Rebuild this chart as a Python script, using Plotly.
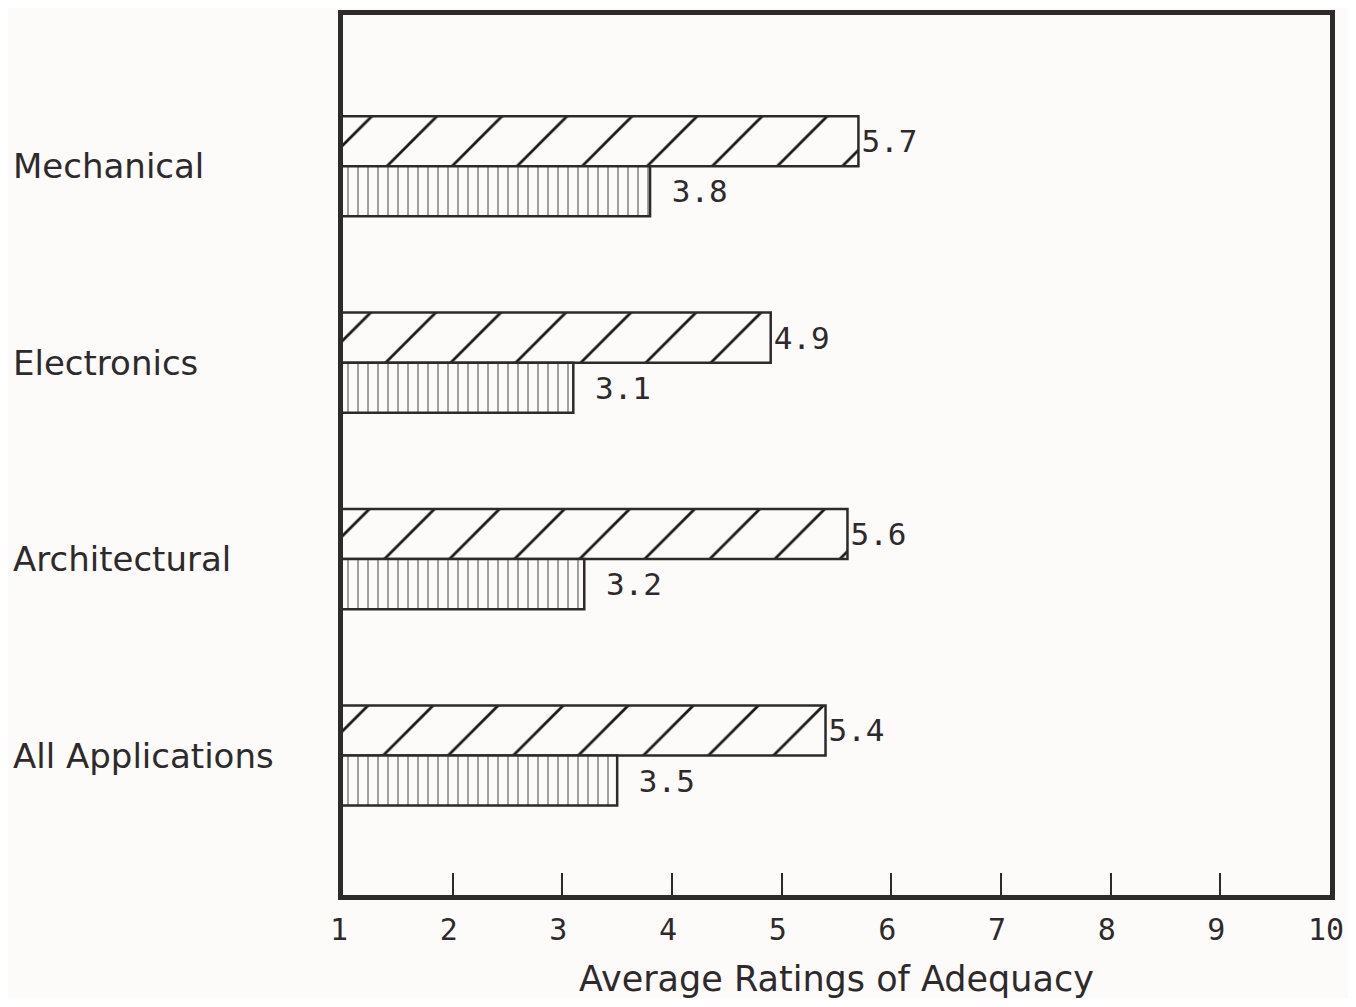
import plotly.graph_objects as go

# datos
categorias = ['Mechanical', 'Electronics', 'Architectural', 'All Applications']
serie_a = [5.7, 4.9, 5.6, 5.4]   # barras rayadas
serie_b = [3.8, 3.1, 3.2, 3.5]   # barras punteadas
ticks_x = [1, 2, 3, 4, 5, 6, 7, 8, 9, 10]

pos_y = list(range(len(categorias)))
tinta = '#2e2a2c'
fondo = '#fcfbf9'

fig = go.Figure()
fig.add_trace(
    go.Bar(
        name='A',
        y=pos_y,
        x=serie_a,
        orientation='h',
        marker=dict(
            color=fondo,
            line=dict(color=tinta, width=2.5),
            pattern=dict(shape='/', size=46, solidity=0.06, fgcolor='#1a1718',
                         fgopacity=1, bgcolor=fondo),
        ),
        text=[f'{v:.1f}' for v in serie_a],
        textposition='outside',
        textfont=dict(family='DejaVu Sans Mono', size=31, color=tinta),
        cliponaxis=False,
    )
)
fig.add_trace(
    go.Bar(
        name='B',
        y=pos_y,
        x=serie_b,
        orientation='h',
        marker=dict(
            color=fondo,
            line=dict(color=tinta, width=2.5),
            pattern=dict(shape='|', size=10, solidity=0.1, fgcolor='#444',
                         fgopacity=1, bgcolor=fondo),
        ),
        text=[f' {v:.1f}' for v in serie_b],
        textposition='outside',
        textfont=dict(family='DejaVu Sans Mono', size=31, color=tinta),
        cliponaxis=False,
    )
)

# etiquetas de categoria alineadas a la izquierda
for i, cat in enumerate(categorias):
    fig.add_annotation(
        x=-0.336, xref='paper', y=i, yref='y',
        text=cat, showarrow=False, xanchor='left', yanchor='middle',
        font=dict(family='DejaVu Sans', size=34, color=tinta),
    )

# la pagina tiene 8px de margen en el body
fig.update_layout(
    width=1340,
    height=991,
    paper_bgcolor=fondo,
    plot_bgcolor=fondo,
    showlegend=False,
    barmode='group',
    bargap=0.49,
    bargroupgap=0.0,
    margin=dict(l=335, r=18, t=7, b=104),
    xaxis=dict(
        range=[1, 10],
        tickvals=ticks_x,
        ticktext=[str(t) for t in ticks_x],
        ticks='inside',
        ticklen=22,
        tickwidth=2,
        tickcolor=tinta,
        ticklabelshift=-4,
        ticklabelstandoff=4,
        ticklabeloverflow='allow',
        showgrid=False,
        zeroline=False,
        showline=True,
        linecolor=tinta,
        linewidth=5,
        mirror=True,
        automargin=False,
        tickfont=dict(family='DejaVu Sans Mono', size=30, color=tinta),
        title=dict(
            text='Average Ratings of Adequacy',
            font=dict(family='DejaVu Sans', size=35, color=tinta),
            standoff=24,
        ),
    ),
    yaxis=dict(
        range=[3.71, -0.77],
        showticklabels=False,
        ticks='',
        showgrid=False,
        zeroline=False,
        showline=True,
        linecolor=tinta,
        linewidth=5,
        mirror=True,
    ),
)

fig.write_html('out.html')
